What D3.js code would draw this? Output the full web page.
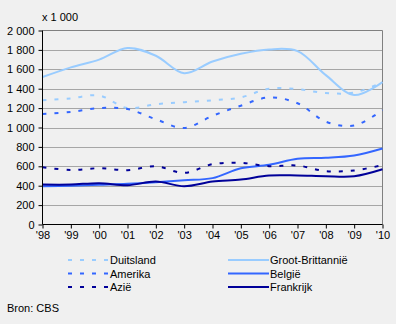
<!DOCTYPE html>
<html>
<head>
<meta charset="utf-8">
<script src="https://cdn.jsdelivr.net/npm/d3@7"></script>
<style>
  body { margin: 0; background: #f0f0f0; }
  text { font-family: "Liberation Sans", Arial, sans-serif; font-size: 11px; fill: #000; }
</style>
</head>
<body>
<div id="chart"></div>
<script>
// data, in thousands
var years = ["'98", "'99", "'00", "'01", "'02", "'03", "'04", "'05", "'06", "'07", "'08", "'09", "'10"];
var duitsland  = [1280, 1300, 1330, 1200, 1240, 1260, 1280, 1310, 1400, 1395, 1355, 1360, 1465];
var grootBrit  = [1520, 1620, 1700, 1820, 1740, 1560, 1680, 1760, 1805, 1788, 1540, 1335, 1468];
var amerika    = [1140, 1160, 1200, 1190, 1085, 995, 1120, 1225, 1310, 1250, 1060, 1020, 1180];
var belgie     = [395, 400, 410, 420, 436, 456, 478, 580, 615, 677, 687, 711, 783];
var azie       = [590, 562, 580, 560, 600, 532, 622, 636, 601, 608, 550, 557, 612];
var frankrijk  = [412, 412, 426, 405, 443, 395, 443, 464, 505, 505, 498, 498, 570];
var yTicks = [0, 200, 400, 600, 800, 1000, 1200, 1400, 1600, 1800, 2000];

var series = [
  { name: "Duitsland", values: duitsland, color: "#99ccff", dash: "4,8", col: 0, row: 0 },
  { name: "Groot-Brittannië", values: grootBrit, color: "#99ccff", dash: null, col: 1, row: 0 },
  { name: "Amerika", values: amerika, color: "#3366ff", dash: "4,8", col: 0, row: 1 },
  { name: "België", values: belgie, color: "#3366ff", dash: null, col: 1, row: 1 },
  { name: "Azië", values: azie, color: "#000099", dash: "4,8", col: 0, row: 2 },
  { name: "Frankrijk", values: frankrijk, color: "#000099", dash: null, col: 1, row: 2 }
];

var width = 396, height = 324;
var plotLeft = 42.5, plotRight = 382.5, plotTop = 30.5, plotBottom = 224.5;

var svg = d3.select("#chart").append("svg")
    .attr("width", width)
    .attr("height", height);

var x = d3.scalePoint().domain(years).range([plotLeft, plotRight]);
var y = d3.scaleLinear().domain([0, 2000]).range([plotBottom, plotTop]);

// grid
svg.append("g").selectAll("line")
    .data(yTicks.filter(function(d){ return d > 0 && d < 2000; }))
    .enter().append("line")
    .attr("x1", plotLeft).attr("x2", plotRight)
    .attr("y1", function(d){ return Math.round(y(d)) + 0.5; })
    .attr("y2", function(d){ return Math.round(y(d)) + 0.5; })
    .style("stroke", "#a6a6a6");

// frame top/right
svg.append("path")
    .attr("d", "M" + plotLeft + "," + plotTop + "H" + plotRight + "V" + plotBottom)
    .style("fill", "none")
    .style("stroke", "#808080");

// lines
var line = d3.line()
    .x(function(d, i){ return x(years[i]); })
    .y(function(d){ return y(d); })
    .curve(d3.curveCatmullRom.alpha(0.5));

svg.append("g").selectAll("path")
    .data(series)
    .enter().append("path")
    .attr("d", function(s){ return line(s.values); })
    .style("fill", "none")
    .style("stroke", function(s){ return s.color; })
    .style("stroke-width", 2)
    .style("stroke-dasharray", function(s){ return s.dash; });

// axes
var yAxis = d3.axisLeft(y).tickValues(yTicks).tickSize(4).tickPadding(4)
    .tickFormat(function(d){ return d3.format(",")(d).replace(",", " "); });
var gy = svg.append("g").attr("transform", "translate(" + plotLeft + ",0)").call(yAxis);
gy.select(".domain").remove();
gy.append("line").attr("x1", 0).attr("x2", 0).attr("y1", plotTop).attr("y2", plotBottom).style("stroke", "#000");
gy.selectAll("text").style("font-size", "11px").style("font-family", "Liberation Sans, Arial, sans-serif");

var xAxis = d3.axisBottom(x).tickSize(4).tickPadding(3);
var gx = svg.append("g").attr("transform", "translate(0," + plotBottom + ")").call(xAxis);
gx.select(".domain").remove();
gx.append("line").attr("x1", plotLeft).attr("x2", plotRight).style("stroke", "#000");
gx.selectAll("text").style("font-size", "11px").style("font-family", "Liberation Sans, Arial, sans-serif");

svg.append("text").attr("x", 42).attr("y", 21).text("x 1 000");

// legend
var colX = [68, 228], rowY = [260, 273.5, 287];
var lg = svg.append("g").selectAll("g")
    .data(series)
    .enter().append("g")
    .attr("transform", function(s){ return "translate(" + colX[s.col] + "," + rowY[s.row] + ")"; });
lg.append("line")
    .attr("x1", 0).attr("x2", 41)
    .style("stroke", function(s){ return s.color; })
    .style("stroke-width", 2)
    .style("stroke-dasharray", function(s){ return s.dash; });
lg.append("text")
    .attr("x", 42).attr("y", 4)
    .text(function(s){ return s.name; });

svg.append("text").attr("x", 7).attr("y", 312).text("Bron: CBS");
</script>
</body>
</html>
